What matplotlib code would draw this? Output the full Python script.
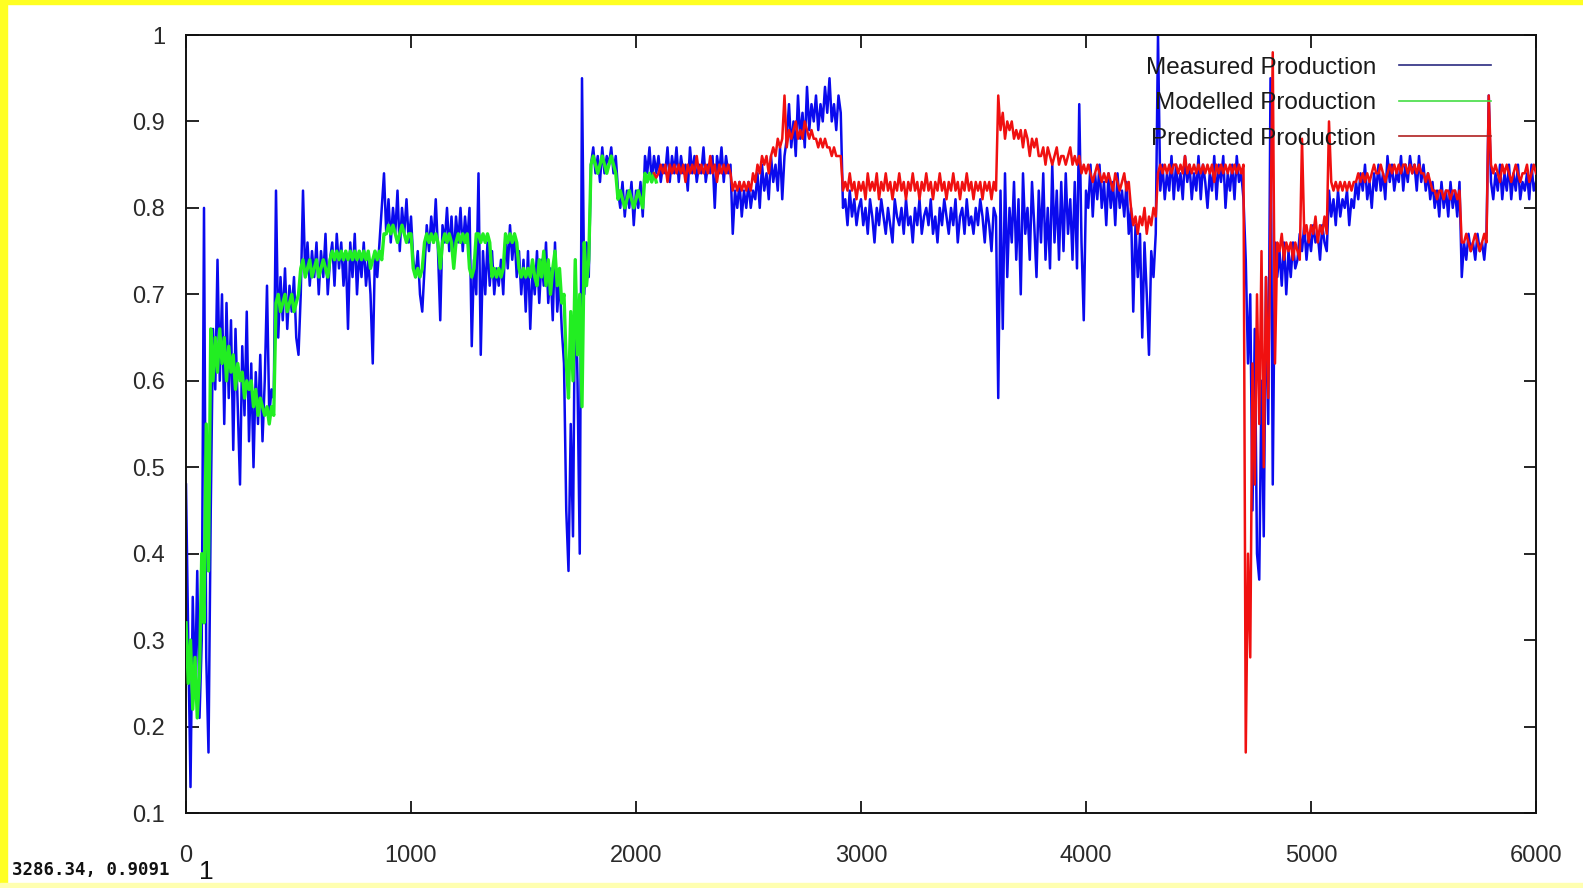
import numpy as np
import matplotlib.pyplot as plt
from matplotlib.lines import Line2D
from matplotlib.patches import Rectangle

plt.rcParams['font.family'] = ['Liberation Sans', 'DejaVu Sans']

# sample spacing of the series (x units)
step = 10

# Measured Production, x = 0 .. 6000
measured = [
    0.48, 0.30, 0.13, 0.35, 0.24, 0.38, 0.21, 0.30, 0.80, 0.28,
    0.17, 0.45, 0.66, 0.59, 0.74, 0.60, 0.70, 0.55, 0.69, 0.58,
    0.67, 0.52, 0.66, 0.57, 0.48, 0.64, 0.56, 0.68, 0.53, 0.62,
    0.50, 0.61, 0.55, 0.63, 0.53, 0.60, 0.71, 0.56, 0.59, 0.58,
    0.82, 0.65, 0.72, 0.67, 0.73, 0.66, 0.71, 0.68, 0.72, 0.65,
    0.63, 0.70, 0.82, 0.72, 0.76, 0.71, 0.75, 0.72, 0.76, 0.70,
    0.75, 0.72, 0.77, 0.70, 0.74, 0.76, 0.71, 0.77, 0.73, 0.76,
    0.71, 0.75, 0.66, 0.76, 0.72, 0.77, 0.70, 0.75, 0.72, 0.76,
    0.71, 0.74, 0.70, 0.62, 0.75, 0.72, 0.76, 0.80, 0.84, 0.77,
    0.81, 0.76, 0.80, 0.77, 0.82, 0.75, 0.80, 0.77, 0.81, 0.76,
    0.79, 0.74, 0.72, 0.75, 0.70, 0.68, 0.73, 0.78, 0.75, 0.79,
    0.76, 0.81, 0.75, 0.67, 0.78, 0.76, 0.80, 0.75, 0.79, 0.74,
    0.79, 0.76, 0.80, 0.75, 0.79, 0.76, 0.80, 0.64, 0.74, 0.70,
    0.84, 0.63, 0.75, 0.70, 0.76, 0.71, 0.75, 0.70, 0.73, 0.71,
    0.74, 0.70, 0.77, 0.73, 0.78, 0.74, 0.77, 0.72, 0.75, 0.70,
    0.74, 0.68, 0.75, 0.66, 0.73, 0.70, 0.75, 0.69, 0.74, 0.71,
    0.76, 0.69, 0.73, 0.67, 0.76, 0.68, 0.72, 0.66, 0.62, 0.45,
    0.38, 0.55, 0.42, 0.74, 0.60, 0.40, 0.95, 0.70, 0.76, 0.72,
    0.85, 0.87, 0.84, 0.86, 0.83, 0.87, 0.84, 0.86, 0.85, 0.87,
    0.84, 0.86, 0.82, 0.80, 0.83, 0.79, 0.82, 0.80, 0.83, 0.78,
    0.82, 0.80, 0.83, 0.79, 0.86, 0.84, 0.87, 0.83, 0.86, 0.84,
    0.86, 0.83, 0.85, 0.84, 0.87, 0.83, 0.86, 0.84, 0.87, 0.83,
    0.86, 0.84, 0.85, 0.82, 0.87, 0.84, 0.86, 0.83, 0.85, 0.84,
    0.87, 0.83, 0.85, 0.84, 0.86, 0.80, 0.86, 0.84, 0.87, 0.83,
    0.86, 0.84, 0.85, 0.77, 0.82, 0.80, 0.83, 0.79, 0.82, 0.80,
    0.83, 0.80, 0.82, 0.81, 0.84, 0.80, 0.85, 0.82, 0.84, 0.81,
    0.86, 0.83, 0.85, 0.82, 0.87, 0.81, 0.86, 0.88, 0.92, 0.87,
    0.90, 0.86, 0.93, 0.88, 0.91, 0.87, 0.94, 0.89, 0.92, 0.90,
    0.93, 0.89, 0.92, 0.90, 0.94, 0.91, 0.95, 0.90, 0.92, 0.89,
    0.93, 0.91, 0.80, 0.81, 0.78, 0.82, 0.79, 0.81, 0.78, 0.80,
    0.81, 0.78, 0.80, 0.77, 0.81, 0.79, 0.76, 0.80, 0.78, 0.81,
    0.79, 0.77, 0.80, 0.78, 0.76, 0.81, 0.79, 0.78, 0.80, 0.77,
    0.81, 0.78, 0.79, 0.76, 0.80, 0.78, 0.81, 0.77, 0.79, 0.80,
    0.78, 0.81, 0.77, 0.79, 0.76, 0.80, 0.78, 0.81, 0.79, 0.77,
    0.80, 0.78, 0.81, 0.76, 0.79, 0.80, 0.77, 0.81, 0.78, 0.79,
    0.77, 0.80, 0.78, 0.81, 0.79, 0.76, 0.80, 0.78, 0.75, 0.80,
    0.79, 0.58, 0.82, 0.66, 0.84, 0.72, 0.80, 0.76, 0.83, 0.74,
    0.81, 0.70, 0.84, 0.77, 0.80, 0.74, 0.83, 0.78, 0.72, 0.82,
    0.76, 0.84, 0.74, 0.80, 0.73, 0.85, 0.76, 0.82, 0.74, 0.83,
    0.75, 0.84, 0.77, 0.81, 0.74, 0.83, 0.73, 0.92, 0.76, 0.67,
    0.82, 0.80, 0.85, 0.79, 0.84, 0.81, 0.85, 0.80, 0.83, 0.78,
    0.84, 0.80, 0.83, 0.78, 0.84, 0.80, 0.82, 0.79, 0.83, 0.77,
    0.80, 0.68, 0.78, 0.72, 0.77, 0.65, 0.76, 0.70, 0.63, 0.75,
    0.72, 0.77, 1.00, 0.82, 0.85, 0.81, 0.84, 0.82, 0.86, 0.81,
    0.85, 0.82, 0.84, 0.81, 0.86, 0.83, 0.85, 0.81, 0.84, 0.82,
    0.86, 0.81, 0.85, 0.83, 0.80, 0.84, 0.82, 0.86, 0.81, 0.85,
    0.83, 0.86, 0.80, 0.84, 0.82, 0.85, 0.81, 0.86, 0.83, 0.84,
    0.81, 0.74, 0.62, 0.70, 0.45, 0.66, 0.40, 0.37, 0.60, 0.42,
    0.72, 0.55, 0.95, 0.48, 0.76, 0.72, 0.75, 0.71, 0.76, 0.70,
    0.75, 0.72, 0.76, 0.73, 0.74, 0.77, 0.75, 0.78, 0.74, 0.77,
    0.75, 0.78, 0.76, 0.77, 0.74, 0.78, 0.76, 0.75, 0.82, 0.79,
    0.81, 0.78, 0.82, 0.79, 0.81, 0.80, 0.82, 0.78, 0.81, 0.80,
    0.83, 0.81, 0.84, 0.82, 0.85, 0.81, 0.83, 0.80, 0.84, 0.82,
    0.85, 0.82, 0.84, 0.81, 0.86, 0.83, 0.85, 0.82, 0.84, 0.83,
    0.86, 0.82, 0.85, 0.83, 0.86, 0.84, 0.85, 0.82, 0.86, 0.83,
    0.85, 0.82, 0.84, 0.81, 0.83, 0.80, 0.82, 0.79, 0.83, 0.80,
    0.82, 0.79, 0.83, 0.80, 0.82, 0.79, 0.83, 0.72, 0.76, 0.74,
    0.77, 0.75, 0.76, 0.74, 0.77, 0.75, 0.76, 0.74, 0.77, 0.93,
    0.83, 0.81, 0.84, 0.82, 0.85, 0.81, 0.84, 0.82, 0.85, 0.81,
    0.84, 0.82, 0.85, 0.81, 0.83, 0.82, 0.84, 0.81, 0.85, 0.82,
    0.83,
]

# Modelled Production, x = 0 .. 2090
modelled = [
    0.32, 0.25, 0.30, 0.22, 0.28, 0.21, 0.26, 0.40, 0.32, 0.55,
    0.38, 0.66, 0.60, 0.65, 0.61, 0.66, 0.62, 0.65, 0.60, 0.64,
    0.61, 0.63, 0.59, 0.62, 0.60, 0.61, 0.58, 0.60, 0.59, 0.60,
    0.57, 0.59, 0.56, 0.58, 0.57, 0.56, 0.57, 0.55, 0.57, 0.56,
    0.69, 0.70, 0.68, 0.69, 0.70, 0.68, 0.69, 0.70, 0.68, 0.69,
    0.70, 0.73, 0.74, 0.72, 0.73, 0.74, 0.72, 0.73, 0.74, 0.72,
    0.73, 0.74, 0.73, 0.72, 0.74, 0.75, 0.74, 0.75, 0.74, 0.75,
    0.74, 0.75, 0.74, 0.75, 0.74, 0.75, 0.74, 0.75, 0.74, 0.75,
    0.74, 0.75, 0.73, 0.74, 0.75, 0.74, 0.75, 0.74, 0.77, 0.77,
    0.78, 0.77, 0.78, 0.77, 0.76, 0.77, 0.78, 0.77, 0.76, 0.77,
    0.77, 0.73, 0.72, 0.73, 0.72, 0.73, 0.76, 0.77, 0.76, 0.77,
    0.76, 0.77, 0.76, 0.73, 0.76, 0.77, 0.76, 0.77, 0.76, 0.73,
    0.76, 0.77, 0.76, 0.77, 0.76, 0.77, 0.73, 0.72, 0.73, 0.77,
    0.77, 0.76, 0.77, 0.76, 0.77, 0.76, 0.72, 0.73, 0.72, 0.73,
    0.72, 0.73, 0.77, 0.76, 0.77, 0.76, 0.77, 0.76, 0.73, 0.72,
    0.73, 0.72, 0.73, 0.72, 0.74, 0.72, 0.71, 0.74, 0.72, 0.75,
    0.71, 0.74, 0.70, 0.73, 0.75, 0.71, 0.73, 0.69, 0.70, 0.62,
    0.58, 0.68, 0.60, 0.74, 0.63, 0.70, 0.57, 0.76, 0.71, 0.74,
    0.85, 0.86, 0.85, 0.84, 0.85, 0.86, 0.85, 0.84, 0.85, 0.86,
    0.85, 0.84, 0.81, 0.82, 0.81, 0.80, 0.81, 0.82, 0.81, 0.80,
    0.81, 0.82, 0.81, 0.80, 0.84, 0.83, 0.84, 0.83, 0.84, 0.83,
]

# Predicted Production, x = 2080 .. 6000
predicted_start = 2080
predicted = [
    0.84, 0.835,
    0.84, 0.85, 0.84, 0.85, 0.83, 0.85, 0.84, 0.85, 0.84, 0.85,
    0.84, 0.85, 0.83, 0.85, 0.84, 0.85, 0.84, 0.86, 0.84, 0.85,
    0.84, 0.85, 0.84, 0.86, 0.84, 0.85, 0.83, 0.85, 0.84, 0.85,
    0.84, 0.85, 0.84, 0.82, 0.83, 0.82, 0.83, 0.82, 0.83, 0.82,
    0.83, 0.82, 0.84, 0.83, 0.85, 0.84, 0.86, 0.85, 0.86, 0.84,
    0.86, 0.87, 0.86, 0.88, 0.87, 0.88, 0.93, 0.87, 0.89, 0.88,
    0.89, 0.90, 0.88, 0.89, 0.88, 0.90, 0.89, 0.88, 0.89, 0.88,
    0.88, 0.87, 0.88, 0.87, 0.88, 0.87, 0.87, 0.86, 0.87, 0.86,
    0.86, 0.86, 0.82, 0.83, 0.82, 0.84, 0.82, 0.83, 0.81, 0.83,
    0.82, 0.83, 0.81, 0.84, 0.82, 0.83, 0.82, 0.84, 0.81, 0.83,
    0.82, 0.84, 0.82, 0.83, 0.81, 0.83, 0.82, 0.84, 0.82, 0.83,
    0.81, 0.83, 0.82, 0.84, 0.82, 0.83, 0.81, 0.83, 0.82, 0.84,
    0.82, 0.83, 0.81, 0.83, 0.82, 0.84, 0.82, 0.83, 0.81, 0.83,
    0.82, 0.84, 0.82, 0.83, 0.81, 0.83, 0.82, 0.84, 0.82, 0.83,
    0.81, 0.83, 0.82, 0.83, 0.81, 0.83, 0.82, 0.83, 0.81, 0.83,
    0.82, 0.93, 0.89, 0.91, 0.88, 0.90, 0.89, 0.90, 0.88, 0.89,
    0.88, 0.89, 0.87, 0.89, 0.88, 0.86, 0.88, 0.87, 0.88, 0.86,
    0.86, 0.87, 0.85, 0.87, 0.86, 0.85, 0.86, 0.87, 0.85, 0.86,
    0.86, 0.85, 0.86, 0.87, 0.85, 0.86, 0.85, 0.86, 0.84, 0.85,
    0.84, 0.85, 0.84, 0.83, 0.84, 0.85, 0.84, 0.83, 0.84, 0.83,
    0.84, 0.83, 0.82, 0.84, 0.83, 0.82, 0.83, 0.84, 0.82, 0.83,
    0.80, 0.78, 0.79, 0.77, 0.79, 0.78, 0.80, 0.77, 0.79, 0.78,
    0.80, 0.79, 0.84, 0.85, 0.84, 0.85, 0.84, 0.85, 0.84, 0.85,
    0.85, 0.84, 0.85, 0.84, 0.86, 0.84, 0.85, 0.84, 0.85, 0.84,
    0.85, 0.84, 0.85, 0.84, 0.85, 0.84, 0.85, 0.83, 0.85, 0.84,
    0.85, 0.84, 0.85, 0.84, 0.85, 0.84, 0.85, 0.84, 0.85, 0.84,
    0.85, 0.17, 0.40, 0.28, 0.62, 0.48, 0.70, 0.55, 0.75, 0.50,
    0.72, 0.58, 0.78, 0.98, 0.62, 0.76, 0.75, 0.77, 0.74, 0.76,
    0.75, 0.76, 0.74, 0.76, 0.75, 0.74, 0.88, 0.77, 0.78, 0.76,
    0.78, 0.77, 0.79, 0.76, 0.78, 0.77, 0.79, 0.77, 0.90, 0.83,
    0.82, 0.83, 0.82, 0.83, 0.82, 0.83, 0.82, 0.83, 0.82, 0.83,
    0.83, 0.84, 0.83, 0.84, 0.83, 0.84, 0.83, 0.84, 0.85, 0.84,
    0.84, 0.85, 0.84, 0.83, 0.84, 0.85, 0.84, 0.85, 0.84, 0.85,
    0.84, 0.85, 0.85, 0.84, 0.85, 0.84, 0.85, 0.84, 0.85, 0.84,
    0.84, 0.83, 0.84, 0.83, 0.82, 0.82, 0.81, 0.82, 0.82, 0.81,
    0.82, 0.82, 0.81, 0.82, 0.82, 0.81, 0.82, 0.76, 0.76, 0.77,
    0.76, 0.75, 0.76, 0.77, 0.76, 0.75, 0.76, 0.77, 0.76, 0.93,
    0.85, 0.84, 0.85, 0.84, 0.83, 0.85, 0.84, 0.85, 0.84, 0.83,
    0.84, 0.85, 0.84, 0.83, 0.84, 0.84, 0.85, 0.83, 0.84, 0.85,
    0.84,
]

labels = ['Measured Production', 'Modelled Production', 'Predicted Production']
x_ticks = [0, 1000, 2000, 3000, 4000, 5000, 6000]
y_ticks = [0.1, 0.2, 0.3, 0.4, 0.5, 0.6, 0.7, 0.8, 0.9, 1.0]
y_tick_labels = ['0.1', '0.2', '0.3', '0.4', '0.5', '0.6', '0.7', '0.8', '0.9', '1']

x_measured = np.arange(len(measured)) * step
x_modelled = np.arange(len(modelled)) * step
x_predicted = predicted_start + np.arange(len(predicted)) * step

fig = plt.figure(figsize=(15.83, 8.88), dpi=100)
fig.patch.set_facecolor('white')

# yellow frame strips of the screenshot
fig.add_artist(Rectangle((0, 0), 7 / 1583, 1, transform=fig.transFigure, color='#ffff22', zorder=0))
fig.add_artist(Rectangle((0, 1 - 4 / 888), 1, 4 / 888, transform=fig.transFigure, color='#ffff22', zorder=0))
fig.add_artist(Rectangle((0, 0), 1, 5 / 888, transform=fig.transFigure, color='#ffffb0', zorder=0))

ax = fig.add_axes([186 / 1583, 75 / 888, 1350 / 1583, 778 / 888])

ax.plot(x_measured, measured, color='#0a0aee', lw=1.8, zorder=2)
ax.plot(x_modelled, modelled, color='#22ee22', lw=2.4, zorder=3)
ax.plot(x_predicted, predicted, color='#f01010', lw=1.8, zorder=4)

ax.set_xlim(0, 6000)
ax.set_ylim(0.1, 1.0)
ax.set_xticks(x_ticks)
ax.set_xticklabels([str(v) for v in x_ticks])
ax.set_yticks(y_ticks)
ax.set_yticklabels(y_tick_labels)
ax.tick_params(axis='both', direction='in', length=9, width=1.2, colors='black',
               labelcolor='#2a2a2a', labelsize=17, top=True, right=True)
ax.tick_params(axis='y', pad=15)
ax.tick_params(axis='x', pad=23)
for spine in ax.spines.values():
    spine.set_linewidth(1.4)
    spine.set_color('#111111')

handles = [
    Line2D([], [], color='#2a2a80', lw=1.2),
    Line2D([], [], color='#44dd44', lw=1.2),
    Line2D([], [], color='#b02020', lw=1.2),
]
leg = ax.legend(handles, labels, loc='upper right', bbox_to_anchor=(0.967, 0.972),
                frameon=False, markerfirst=False, fontsize=17.5, handlelength=3.8,
                handletextpad=0.95, labelspacing=0.55, borderaxespad=0, borderpad=0)
for t in leg.get_texts():
    t.set_color('#1a1a1a')

# garbled mouse-coordinate readout left in the corner
fig.text(12 / 1583, 1 - 870 / 888, '3286.34, 0.9091', fontsize=12.5, fontweight='bold',
         family='DejaVu Sans Mono', color='#111111', va='center', ha='left')
fig.text(199 / 1583, 1 - 872 / 888, '1', fontsize=19, color='#111111', va='center', ha='left')

plt.savefig('out.png', dpi=100)
